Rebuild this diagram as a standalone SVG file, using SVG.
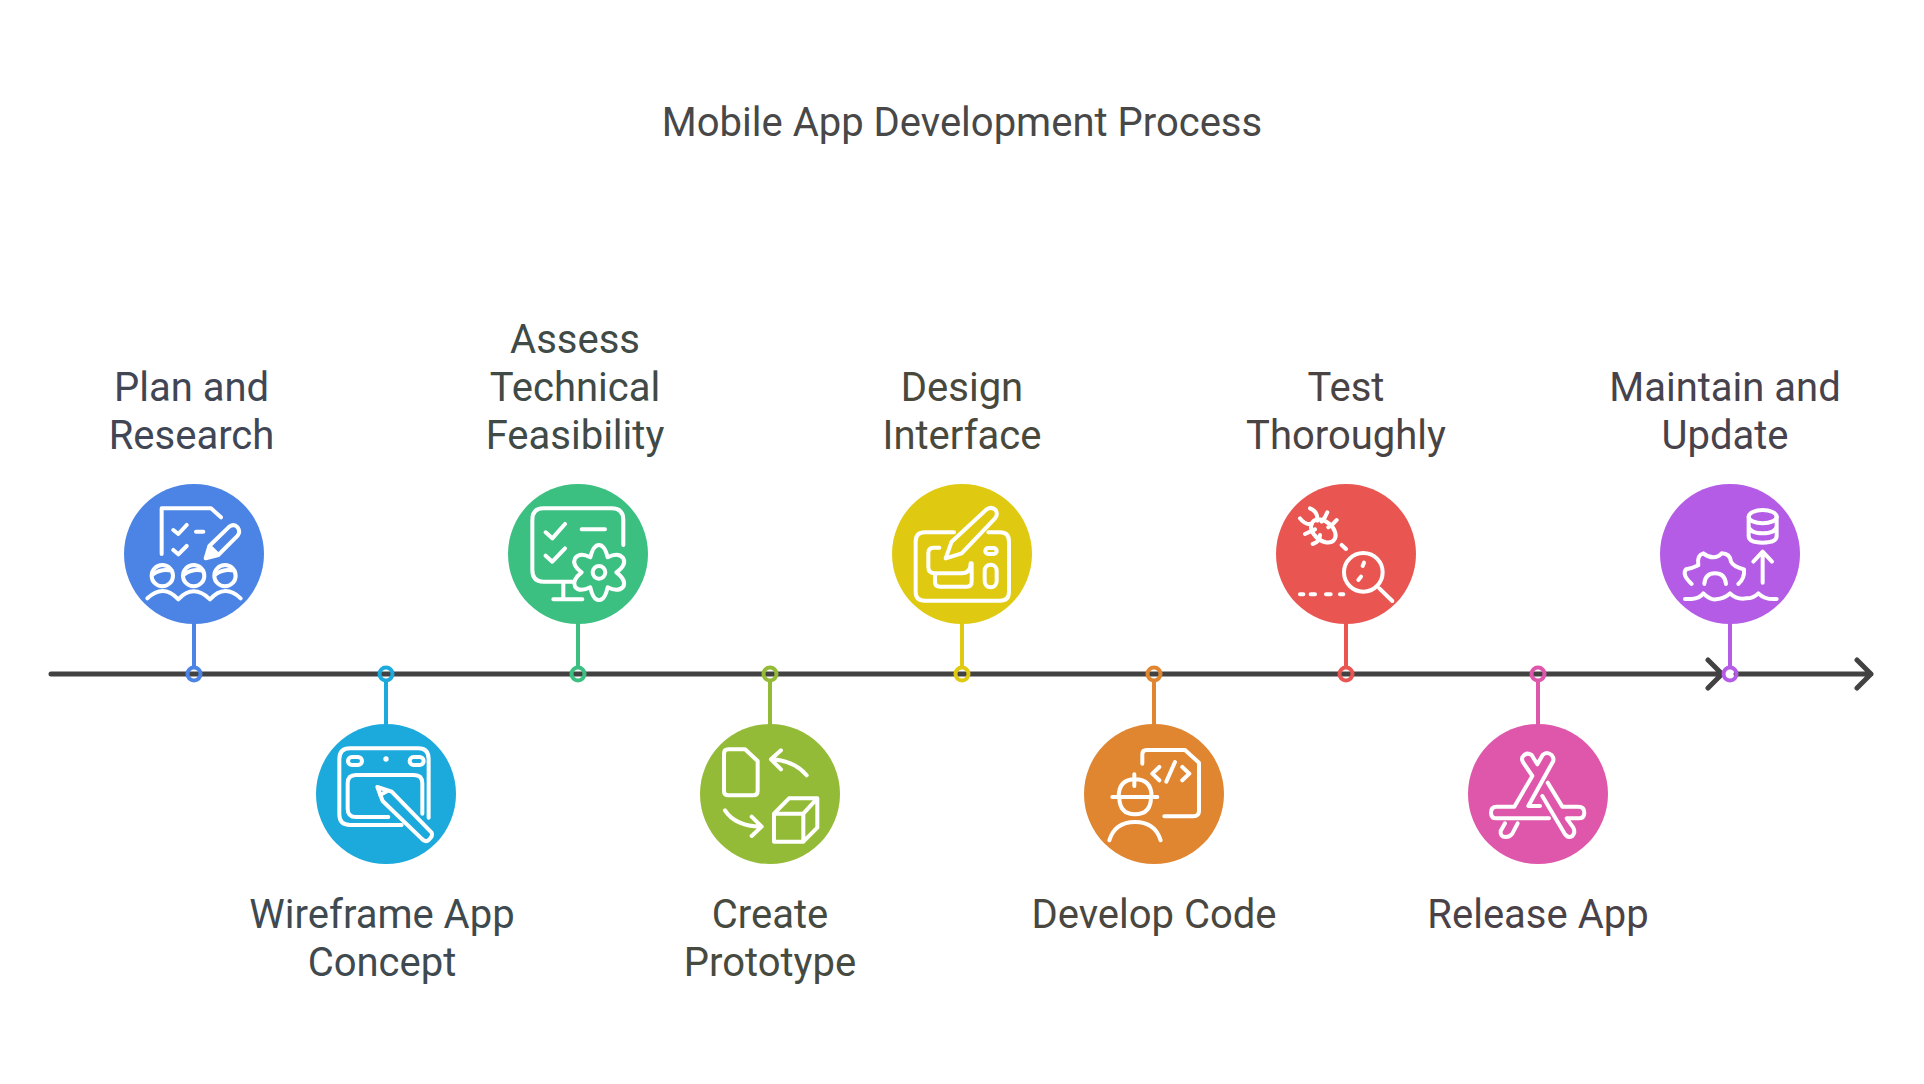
<svg xmlns="http://www.w3.org/2000/svg" width="1924" height="1084" viewBox="0 0 1924 1084">
<style>
text{font-family:Roboto,"Liberation Sans",sans-serif;font-size:40px;fill:#484848;text-anchor:middle}
.ic{fill:none;stroke:#fff;stroke-width:12;stroke-linecap:round;stroke-linejoin:round}
.f{fill:#fff;stroke:none}
.axis{fill:none;stroke:#424242;stroke-width:5;stroke-linecap:round;stroke-linejoin:round}
.stem{stroke-width:4;fill:none}
</style>
<rect width="1924" height="1084" fill="#fff"/>
<text x="962" y="136">Mobile App Development Process</text>
<g id="connectors">
<path class="axis" d="M51 674H1722M1708 660L1722 674L1708 688M1736 674H1871M1857 660L1871 674L1857 688"/>
</g>
<g id="node-plan">
<path class="stem" stroke="#4b84e4" d="M194 620V668"/><circle class="stem" stroke="#4b84e4" cx="194" cy="674" r="6.5"/>
<circle cx="194" cy="554" r="70" fill="#4b84e4"/>
<g transform="translate(110 470) scale(.3333)" class="ic">
<path d="M155 252V115H303L333 142M190 180L205 192L230 165M258 185H280M190 240L205 253L230 228"/>
<path d="M287 265L298 228L358 170Q372 160 383 172Q392 185 383 197L325 255ZM298 228L325 255"/>
<path class="f" d="M287 265L298 232L320 255Z"/>
<circle cx="157" cy="317" r="32"/><circle cx="251" cy="317" r="32"/><circle cx="345" cy="317" r="32"/>
<path d="M130 312Q155 295 185 302M224 312Q249 295 279 302M318 312Q343 295 373 302"/>
<path d="M112 385Q160 340 205 388Q250 340 300 388Q345 340 392 385"/>
</g>
<g style="fill:#414655"><text x="191.500" y="401" fill="#414655" style="fill:#414655">Plan and</text><text x="191.500" y="449" style="fill:#414655">Research</text></g>
</g>
<g id="node-wireframe">
<path class="stem" stroke="#1ca9dc" d="M386 680V728"/><circle class="stem" stroke="#1ca9dc" cx="386" cy="674" r="6.5"/>
<circle cx="386" cy="794" r="70" fill="#1ca9dc"/>
<g transform="translate(300 661) scale(.3333)" class="ic">
<path d="M305 492H150Q118 492 118 460V295Q118 262 150 262H355Q386 262 386 295V470"/>
<path d="M265 468H168Q143 468 143 443V367Q143 342 168 342H342Q367 342 367 367V458"/>
<rect x="144" y="288" width="42" height="24" rx="12"/><rect x="329" y="288" width="42" height="24" rx="12"/>
<circle class="f" cx="258" cy="294" r="8"/>
<path d="M232 378L275 392L395 515Q400 525 385 538Q375 545 365 533L248 420ZM240 402L262 390"/>
</g>
<text x="382" y="928" style="fill:#3f4a50">Wireframe App</text><text x="382" y="976" style="fill:#3f4a50">Concept</text>
</g>
<g id="node-feasibility">
<path class="stem" stroke="#3cc082" d="M578 620V668"/><circle class="stem" stroke="#3cc082" cx="578" cy="674" r="6.5"/>
<circle cx="578" cy="554" r="70" fill="#3cc082"/>
<g transform="translate(495 470) scale(.3333)" class="ic">
<path d="M385 225V150Q385 115 350 115H145Q112 115 112 150V300Q112 335 145 335H232M205 340V388M175 388H262M152 187L172 205L210 162M260 178H330M152 257L172 275L210 235"/>
<path d="M286 262Q295 225 312 225Q329 225 338 262Q370 245 385 265Q395 285 364 307Q395 330 385 350Q370 368 338 352Q329 392 312 390Q295 392 286 352Q254 368 240 350Q230 330 260 307Q230 285 240 265Q254 245 286 262Z"/>
<circle cx="312" cy="307" r="19"/>
</g>
<text x="575" y="353" style="fill:#404a46">Assess</text><text x="575" y="401" style="fill:#404a46">Technical</text><text x="575" y="449" style="fill:#404a46">Feasibility</text>
</g>
<g id="node-prototype">
<path class="stem" stroke="#94bb37" d="M770 680V728"/><circle class="stem" stroke="#94bb37" cx="770" cy="674" r="6.5"/>
<circle cx="770" cy="794" r="70" fill="#94bb37"/>
<g transform="translate(685 661) scale(.3333)" class="ic">
<path d="M130 265H180L218 300V390Q218 403 205 403H130Q117 403 117 390V278Q117 265 130 265Z"/>
<path d="M365 343Q330 300 262 295M288 268L258 295L288 325M120 448Q150 495 228 497M200 467L230 497L200 525"/>
<path d="M267 458H355V542H267ZM267 458L312 412H397L355 458M397 412V500L355 542"/>
</g>
<text x="770" y="928" style="fill:#474a3f">Create</text><text x="770" y="976" style="fill:#474a3f">Prototype</text>
</g>
<g id="node-design">
<path class="stem" stroke="#dfca11" d="M962 620V668"/><circle class="stem" stroke="#dfca11" cx="962" cy="674" r="6.5"/>
<circle cx="962" cy="554" r="70" fill="#dfca11"/>
<g transform="translate(880 470) scale(.3333)" class="ic">
<path d="M222 187H135Q107 187 107 215V365Q107 392 135 392H360Q387 392 387 365V215Q387 187 360 187H325"/>
<path d="M197 265L215 215L320 118Q335 108 347 120Q355 133 345 145L245 250Z"/>
<path d="M178 233H160Q145 233 145 250V290Q145 310 165 310H245Q272 310 272 280M165 312V335Q165 350 180 350H260Q275 350 275 335V280"/>
<rect x="316" y="234" width="34" height="18" rx="9"/><rect x="314" y="284" width="36" height="68" rx="18"/>
</g>
<text x="962" y="401" style="fill:#49483c">Design</text><text x="962" y="449" style="fill:#49483c">Interface</text>
</g>
<g id="node-develop">
<path class="stem" stroke="#e08530" d="M1154 680V728"/><circle class="stem" stroke="#e08530" cx="1154" cy="674" r="6.5"/>
<circle cx="1154" cy="794" r="70" fill="#e08530"/>
<g transform="translate(1070 661) scale(.3333)" class="ic">
<path d="M217 308V280Q217 267 230 267H345L387 305V450Q387 466 370 466H283M268 318L247 338L268 358M315 303L289 362M337 318L358 338L337 358"/>
<path d="M146 408Q146 355 195 355Q245 355 245 408M148 408Q148 460 195 460Q243 460 243 408M127 408H262M193 340V375M118 538Q135 483 195 483Q255 483 272 538"/>
</g>
<text x="1154" y="928" style="fill:#4a4640">Develop Code</text>
</g>
<g id="node-test">
<path class="stem" stroke="#e95652" d="M1346 620V668"/><circle class="stem" stroke="#e95652" cx="1346" cy="674" r="6.5"/>
<circle cx="1346" cy="554" r="70" fill="#e95652"/>
<g transform="translate(1260 470) scale(.3333)" class="ic">
<ellipse cx="190" cy="183" rx="42" ry="28" transform="rotate(40 190 183)"/>
<path d="M150 115Q175 125 172 152M202 127Q195 145 185 155M230 150Q218 165 205 172M120 145Q135 165 155 162M135 192L165 178M158 222Q180 215 180 195M245 225L258 237"/>
<circle cx="310" cy="307" r="58"/>
<path d="M358 355L397 393M312 278L308 288M303 320L295 330M120 373H130M152 373H165M198 373H212M240 373H250"/>
</g>
<text x="1346" y="401" style="fill:#4a4343">Test</text><text x="1346" y="449" style="fill:#4a4343">Thoroughly</text>
</g>
<g id="node-release">
<path class="stem" stroke="#df57ab" d="M1538 680V728"/><circle class="stem" stroke="#df57ab" cx="1538" cy="674" r="6.5"/>
<circle cx="1538" cy="794" r="70" fill="#df57ab"/>
<g transform="translate(1455 661) scale(.3333)" class="ic">
<path d="M178 437H125Q108 437 108 455Q108 472 125 472H282M178 437L232 345L205 305Q197 292 205 285Q215 272 230 282L247 310L263 282Q275 270 290 282Q300 295 292 305L220 435H255"/>
<path d="M262 405L330 520Q340 533 352 525Q362 515 355 500L335 472H370Q388 472 388 455Q388 437 370 437H322L278 365"/>
<path d="M150 487L137 510Q135 528 152 528Q165 528 172 518L188 487"/>
</g>
<text x="1538" y="928" style="fill:#4a4248">Release App</text>
</g>
<g id="node-maintain">
<path class="stem" stroke="#b45ce5" d="M1730 620V668"/><circle class="stem" stroke="#b45ce5" cx="1730" cy="674" r="6.5"/>
<circle cx="1730" cy="554" r="70" fill="#b45ce5"/>
<g transform="translate(1650 470) scale(.3333)" class="ic">
<ellipse cx="338" cy="140" rx="42" ry="20"/>
<path d="M296 140V198Q296 218 338 218Q380 218 380 198V140M296 170Q300 190 338 190Q376 190 380 170M338 338V245M310 275L338 245L366 275"/>
<path d="M125 342Q95 315 108 298Q125 296 145 286Q140 255 160 250Q175 262 190 262Q205 262 215 250Q240 250 243 275Q250 290 282 298Q285 325 265 342M163 342Q165 310 195 310Q225 310 228 342"/>
<path d="M105 387H125Q150 385 160 370Q180 390 198 388Q225 385 240 370Q260 390 290 385Q310 385 325 370Q345 390 380 387"/>
</g>
<text x="1725" y="401" style="fill:#47424c">Maintain and</text><text x="1725" y="449" style="fill:#47424c">Update</text>
</g>
</svg>
